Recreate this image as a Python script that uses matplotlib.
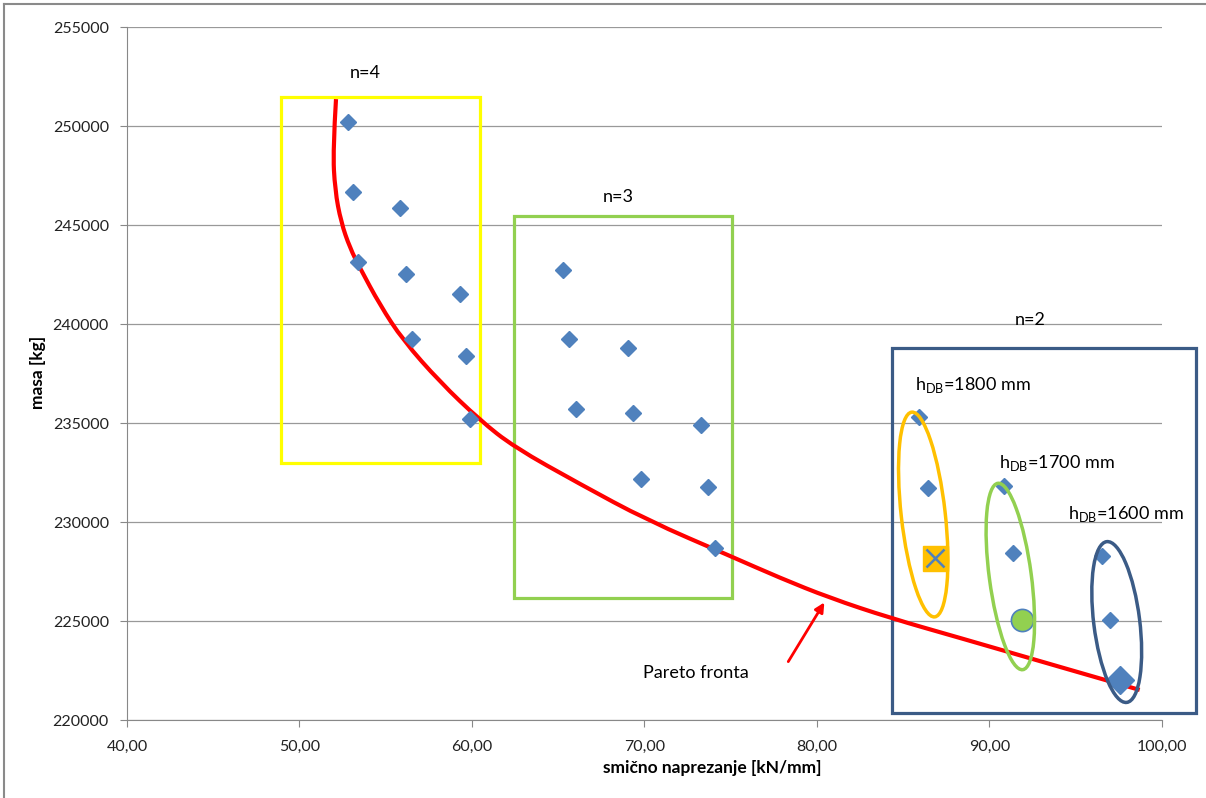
import numpy as np
import matplotlib
matplotlib.use("Agg")
import matplotlib.pyplot as plt
from matplotlib.patches import Rectangle, Ellipse, PathPatch
from matplotlib.path import Path
from matplotlib.transforms import ScaledTranslation
from matplotlib.ticker import FuncFormatter
from matplotlib.lines import Line2D

plt.rcParams['font.family'] = ['Lato', 'DejaVu Sans']

# tocke - n=4
n4_x = [52.81, 53.10, 55.83, 53.39, 56.17, 59.30, 56.52, 59.65, 59.88]
n4_y = [250200, 246670, 245860, 243130, 242520, 241520, 239240, 238390, 235200]
# n=3
n3_x = [65.28, 65.62, 69.04, 66.03, 69.33, 73.28, 69.80, 73.68, 74.09]
n3_y = [242730, 239240, 238790, 235710, 235510, 234900, 232170, 231770, 228690]
# n=2
n2_x = [85.91, 86.43, 90.84, 91.36, 96.52, 96.99]
n2_y = [235300, 231720, 231820, 228440, 228290, 225050]
# izdvojena rjesenja
sel_1800 = (86.84, 228180)
sel_1700 = (91.88, 225050)
sel_1600 = (97.57, 222030)

# pareto fronta (ocitano sa slike)
pareto_x = [52.12, 51.94, 52.06, 52.41, 52.93, 53.51, 54.67, 56.00, 58.15, 60.46,
            62.44, 66.26, 70.15, 74.96, 77.86, 80.75, 84.23, 88.29, 93.51, 98.72]
pareto_y = [251360, 248790, 246770, 245150, 243840, 242830, 240960, 239190, 237070, 235150,
            233790, 231920, 230100, 228290, 227180, 226170, 225160, 224150, 222830, 221520]

x_ticks = [40, 50, 60, 70, 80, 90, 100]
y_ticks = [220000, 225000, 230000, 235000, 240000, 245000, 250000, 255000]

BLUE = "#4F81BD"
NAVY = "#3B5B86"

fig = plt.figure(figsize=(12.06, 7.98), dpi=100)
ax = fig.add_axes([0.1053, 0.0977, 0.858, 0.8684])

ax.set_xlim(40, 100)
ax.set_ylim(220000, 255000)
ax.set_xticks(x_ticks)
ax.set_yticks(y_ticks)
ax.xaxis.set_major_formatter(FuncFormatter(lambda v, p: f"{v:.2f}".replace(".", ",")))
ax.yaxis.set_major_formatter(FuncFormatter(lambda v, p: f"{int(v)}"))
ax.tick_params(axis="both", colors="#888888", labelcolor="#222222", labelsize=11.5, length=5, width=0.8)
ax.tick_params(axis="x", pad=9)
ax.tick_params(axis="y", pad=8)
for s in ["top", "right"]:
    ax.spines[s].set_visible(False)
for s in ["left", "bottom"]:
    ax.spines[s].set_color("#888888")
    ax.spines[s].set_linewidth(0.8)
ax.grid(axis="y", color="#999999", lw=0.9)
ax.set_axisbelow(True)

# nazivi osi (pomaknuti kao u originalu)
fig.text(712 / 1206, 1 - 768 / 798, "smično naprezanje [kN/mm]", fontsize=12.5,
         fontweight="bold", ha="center", va="center")
fig.text(38 / 1206, 1 - 372 / 798, "masa [kg]", fontsize=12.5, fontweight="bold",
         ha="center", va="center", rotation=90)

# pravokutnici za grupe
ax.add_patch(Rectangle((48.93, 232980), 60.46 - 48.93, 251460 - 232980,
                       fill=False, ec="#FFFF00", lw=2.3, zorder=2))
ax.add_patch(Rectangle((62.43, 226170), 75.07 - 62.43, 245450 - 226170,
                       fill=False, ec="#92D050", lw=2.3, zorder=2))
ax.add_patch(Rectangle((84.35, 220360), 102.0 - 84.35, 238790 - 220360,
                       fill=False, ec=NAVY, lw=2.3, zorder=2, clip_on=False))

# glatka linija kroz ocitane tocke (kvadratni B-spline preko Path-a)
pts = np.column_stack([pareto_x, pareto_y])
verts = [pts[0]]
codes = [Path.MOVETO]
for i in range(1, len(pts) - 1):
    mid = (pts[i] + pts[i + 1]) / 2 if i < len(pts) - 2 else pts[i + 1]
    verts += [pts[i], mid]
    codes += [Path.CURVE3, Path.CURVE3]
ax.add_patch(PathPatch(Path(verts, codes), fill=False, ec="#FF0000", lw=3, zorder=3))

ax.plot(n4_x, n4_y, "D", color=BLUE, ms=8, mec=BLUE, zorder=4)
ax.plot(n3_x, n3_y, "D", color=BLUE, ms=8, mec=BLUE, zorder=4)
ax.plot(n2_x, n2_y, "D", color=BLUE, ms=8, mec=BLUE, zorder=4)

ax.plot(*sel_1800, "s", color="#FFC000", ms=18, zorder=5)
ax.plot(*sel_1800, "x", color=BLUE, ms=13, mew=1.8, zorder=6)
ax.plot(*sel_1700, "o", color="#92D050", mec=BLUE, mew=1.2, ms=16, zorder=5)
ax.plot(*sel_1600, "D", color=BLUE, ms=14, zorder=5)

# elipse (dimenzije u pikselima)
def draw_ellipse(cx, cy, a_px, b_px, angle, color):
    tr = fig.dpi_scale_trans + ScaledTranslation(cx, cy, ax.transData)
    e = Ellipse((0, 0), 2 * a_px / 100, 2 * b_px / 100, angle=angle,
                fill=False, ec=color, lw=2.5, transform=tr, zorder=6)
    ax.add_patch(e)

draw_ellipse(86.17, 230380, 103, 22, 96.4, "#FFC000")
draw_ellipse(91.22, 227250, 94, 21, 97.6, "#92D050")
draw_ellipse(97.39, 224950, 81, 23, 97.1, NAVY)

# tekst
ax.text(53.8, 252700, "n=4", fontsize=13, ha="center", va="center")
ax.text(68.46, 246400, "n=3", fontsize=13, ha="center", va="center")
ax.text(92.35, 240200, "n=2", fontsize=13, ha="center", va="center")
ax.text(85.7, 236900, r"h$_{\mathregular{DB}}$=1800 mm", fontsize=13, ha="left", va="center")
ax.text(90.55, 233000, r"h$_{\mathregular{DB}}$=1700 mm", fontsize=13, ha="left", va="center")
ax.text(94.55, 230400, r"h$_{\mathregular{DB}}$=1600 mm", fontsize=13, ha="left", va="center",
        clip_on=False)

ax.text(69.9, 222380, "Pareto fronta", fontsize=13, ha="left", va="center")
ax.annotate("", xy=(80.52, 226060), xytext=(78.26, 222830),
            arrowprops=dict(arrowstyle="-|>", color="#FF0000", lw=2, mutation_scale=14))

# okvir
fig.add_artist(Line2D([0.003, 1.0], [0.995, 0.995], color="#8a8a8a", lw=1.5))
fig.add_artist(Line2D([0.003, 0.003], [0.0, 0.995], color="#8a8a8a", lw=1.5))

fig.savefig("out.png", dpi=100)
